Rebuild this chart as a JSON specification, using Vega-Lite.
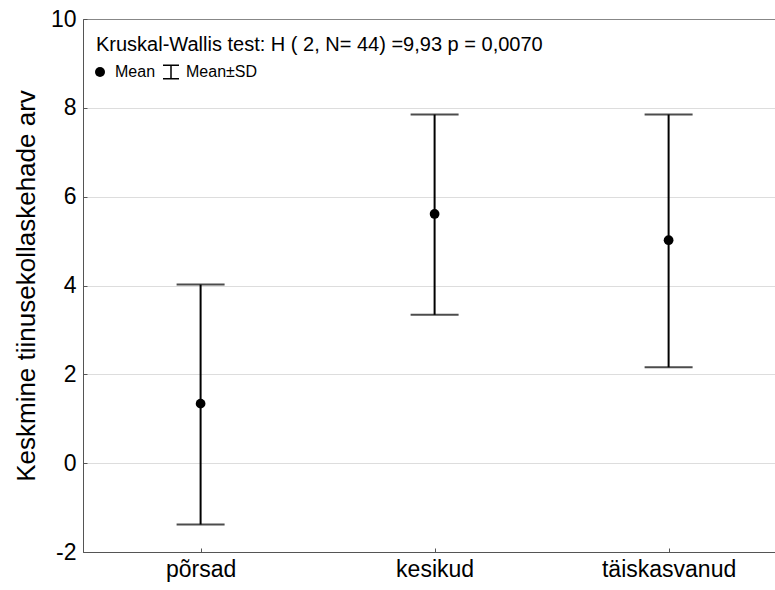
{
  "$schema": "https://vega.github.io/schema/vega-lite/v6.json",
  "autosize": "none",
  "padding": {"left": 83, "top": 19, "right": 0, "bottom": 38},
  "width": 692,
  "height": 533,
  "background": "white",
  "config": {
    "font": "Liberation Sans",
    "view": {"stroke": "#555555", "strokeWidth": 1}
  },
  "title": {
    "text": "Kruskal-Wallis test: H ( 2, N= 44) =9,93 p = 0,0070",
    "anchor": "start",
    "frame": "group",
    "orient": "top",
    "offset": 0,
    "dx": 13,
    "dy": 47,
    "fontSize": 20,
    "fontWeight": "normal",
    "color": "black",
    "font": "Liberation Sans"
  },
  "data": {
    "values": [
      {"group": "põrsad", "mean": 1.34, "lo": -1.38, "hi": 4.02},
      {"group": "kesikud", "mean": 5.61, "lo": 3.34, "hi": 7.85},
      {"group": "täiskasvanud", "mean": 5.02, "lo": 2.16, "hi": 7.85}
    ]
  },
  "encoding": {
    "x": {
      "field": "group",
      "type": "nominal",
      "sort": ["põrsad", "kesikud", "täiskasvanud"],
      "scale": {"type": "point", "padding": 0.4786, "align": 0.525},
      "axis": {
        "title": null,
        "labelAngle": 0,
        "labelFontSize": 23,
        "labelColor": "black",
        "labelPadding": 10,
        "domainColor": "#555555",
        "tickColor": "#555555",
        "tickSize": -4,
        "grid": false
      }
    }
  },
  "layer": [
    {
      "mark": {"type": "rule", "color": "black", "strokeWidth": 2},
      "encoding": {
        "y": {
          "field": "lo",
          "type": "quantitative",
          "scale": {"domain": [-2, 10], "nice": false, "zero": false},
          "axis": {
            "title": "Keskmine tiinusekollaskehade arv",
            "titleFontSize": 26,
            "titleFontWeight": "normal",
            "titleColor": "black",
            "titlePadding": 11,
            "values": [-2, 0, 2, 4, 6, 8, 10],
            "labelExpr": "'' + datum.value",
            "labelFontSize": 23,
            "labelColor": "black",
            "labelPadding": 11,
            "domainColor": "#555555",
            "tickColor": "#555555",
            "tickSize": -4,
            "grid": true,
            "gridColor": "#bbbbbb",
            "gridDash": [1, 1],
            "gridWidth": 1
          }
        },
        "y2": {"field": "hi"}
      }
    },
    {
      "mark": {"type": "tick", "color": "black", "thickness": 2, "size": 48, "orient": "horizontal"},
      "encoding": {"y": {"field": "lo", "type": "quantitative"}}
    },
    {
      "mark": {"type": "tick", "color": "black", "thickness": 2, "size": 48, "orient": "horizontal"},
      "encoding": {"y": {"field": "hi", "type": "quantitative"}}
    },
    {
      "mark": {"type": "point", "filled": true, "color": "black", "opacity": 1, "size": 95},
      "encoding": {
        "y": {"field": "mean", "type": "quantitative"},
        "shape": {
          "datum": "Mean",
          "scale": {
            "domain": ["Mean", "Mean±SD"],
            "range": ["circle", "M-1.6,-1.5H1.6V-1.2H0.15V1.2H1.6V1.5H-1.6V1.2H-0.15V-1.2H-1.6Z"]
          },
          "legend": {
            "title": null,
            "orient": "none",
            "legendX": 9,
            "legendY": 45,
            "direction": "horizontal",
            "labelFontSize": 16,
            "labelColor": "black",
            "labelOffset": 7,
            "columnPadding": 7,
            "symbolSize": 100,
            "symbolFillColor": "black",
            "symbolStrokeColor": "black",
            "symbolStrokeWidth": 0,
            "symbolOpacity": 1
          }
        }
      }
    }
  ]
}
